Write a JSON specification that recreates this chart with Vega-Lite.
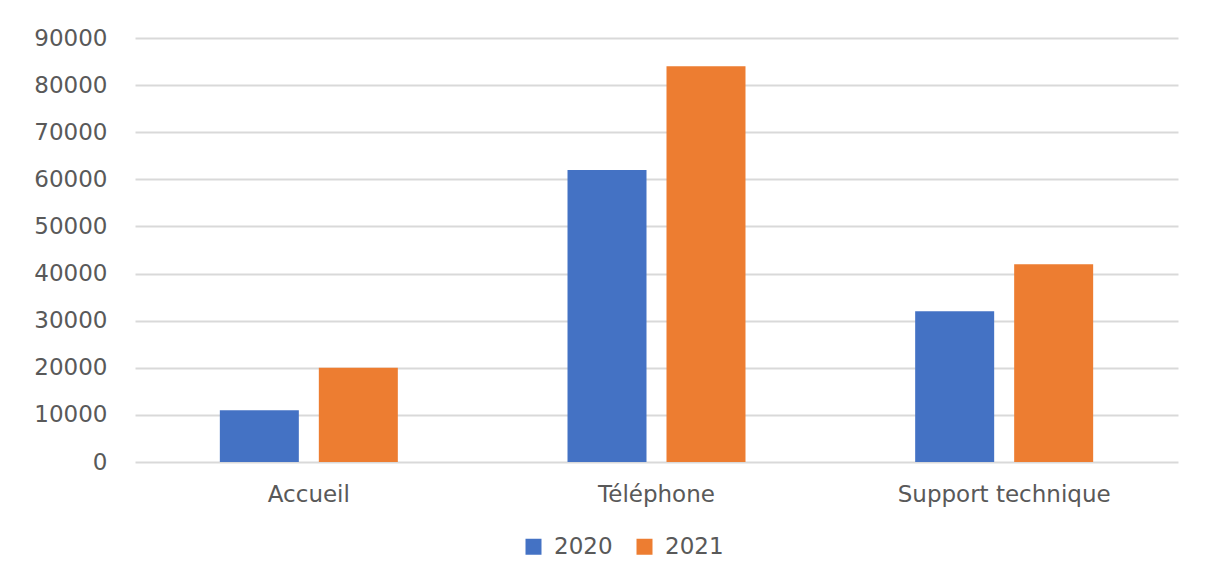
{
  "$schema": "https://vega.github.io/schema/vega-lite/v6.json",
  "width": 1043,
  "height": 424,
  "autosize": {"type": "none"},
  "padding": {"left": 135, "top": 38, "right": 36, "bottom": 118},
  "background": "white",
  "config": {
    "view": {"stroke": null},
    "font": "DejaVu Sans",
    "axis": {"labelFont": "DejaVu Sans", "labelColor": "#595959", "labelFontSize": 23, "labelLimit": 0},
    "legend": {"labelFont": "DejaVu Sans", "labelColor": "#595959", "labelFontSize": 23}
  },
  "data": {
    "values": [
      {"categorie": "Accueil", "annee": "2020", "valeur": 11000},
      {"categorie": "Accueil", "annee": "2021", "valeur": 20000},
      {"categorie": "Téléphone", "annee": "2020", "valeur": 62000},
      {"categorie": "Téléphone", "annee": "2021", "valeur": 84000},
      {"categorie": "Support technique", "annee": "2020", "valeur": 32000},
      {"categorie": "Support technique", "annee": "2021", "valeur": 42000}
    ]
  },
  "mark": {"type": "bar"},
  "encoding": {
    "x": {
      "field": "categorie",
      "type": "nominal",
      "sort": ["Accueil", "Téléphone", "Support technique"],
      "scale": {"paddingInner": 0, "paddingOuter": 0},
      "axis": {"title": null, "labelAngle": 0, "ticks": false, "domain": false, "labelPadding": 21, "labelLimit": 0}
    },
    "xOffset": {
      "field": "annee",
      "type": "nominal",
      "scale": {"paddingInner": 0.202, "paddingOuter": 0.857}
    },
    "y": {
      "field": "valeur",
      "type": "quantitative",
      "scale": {"domain": [0, 90000], "nice": false},
      "axis": {
        "title": null,
        "values": [0, 10000, 20000, 30000, 40000, 50000, 60000, 70000, 80000, 90000],
        "format": "d",
        "ticks": false,
        "domain": false,
        "labelPadding": 28,
        "gridColor": "#d9d9d9",
        "gridWidth": 2
      }
    },
    "color": {
      "field": "annee",
      "type": "nominal",
      "scale": {"domain": ["2020", "2021"], "range": ["#4472C4", "#ED7D31"]},
      "legend": {
        "title": null,
        "orient": "none",
        "direction": "horizontal",
        "legendX": 387,
        "legendY": 497,
        "symbolType": "square",
        "symbolSize": 256,
        "symbolStrokeWidth": 0,
        "labelOffset": 9,
        "columnPadding": 20,
        "padding": 0
      }
    }
  }
}
